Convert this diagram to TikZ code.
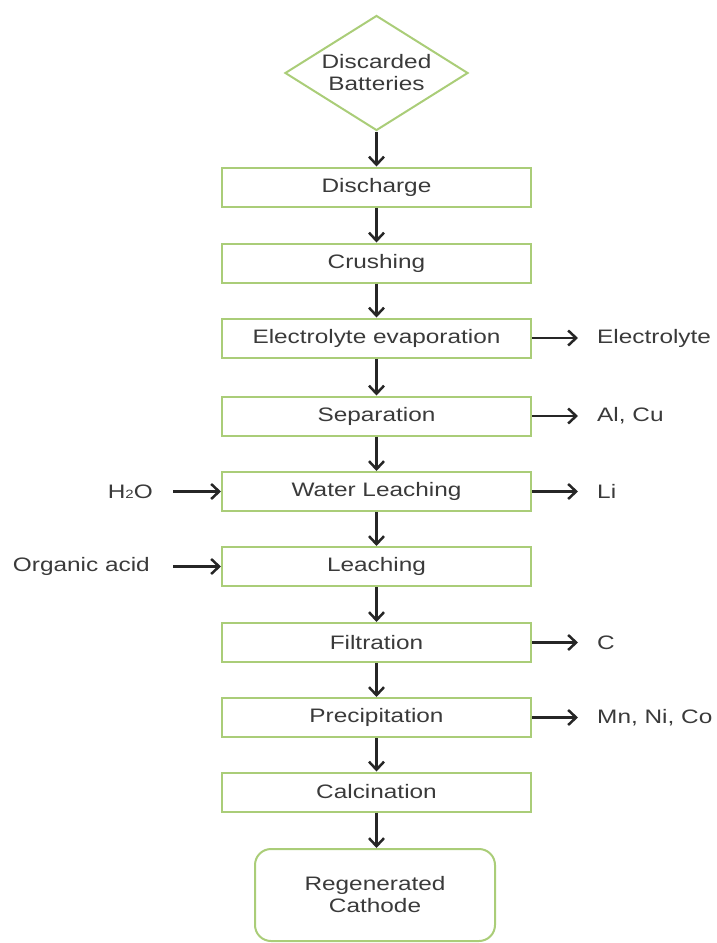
\documentclass[tikz,border=0pt]{standalone}
\usepackage{fontspec}
\setmainfont{Liberation Sans}[FakeStretch=1.25]
\usetikzlibrary{shapes.geometric,arrows.meta}
\definecolor{boxgreen}{RGB}{170,205,120}
\definecolor{txtgray}{RGB}{58,58,58}

\begin{document}
\begin{tikzpicture}[x=1pt,y=-1pt]
\tikzstyle{every node}+=[inner sep=0pt,text=txtgray,font=\fontsize{19.5}{22}\selectfont]
\tikzstyle{stepbox}=[draw=boxgreen,line width=2pt,minimum width=309pt,minimum height=39pt]
\tikzstyle{start}=[diamond,draw=boxgreen,line width=2pt,aspect=1.6,minimum width=183pt,minimum height=115pt,align=center]
\tikzstyle{finish}=[draw=boxgreen,line width=2pt,rounded corners=16pt,minimum width=240pt,minimum height=92pt,align=center]
\tikzstyle{flow}=[draw=black!85,line width=2.5pt,-{Straight Barb[length=8pt,width=15pt]}]
\useasboundingbox (0,0) rectangle (716,943);
% main chain
\node[start] (bat) at (376.5,73) {Discarded\\Batteries};
\node[stepbox] (dis) at (376.5,187) {Discharge};
\node[stepbox] (crush) at (376.5,263) {Crushing};
\node[stepbox] (evap) at (376.5,338) {Electrolyte evaporation};
\node[stepbox] (sep) at (376.5,416) {Separation};
\node[stepbox] (wleach) at (376.5,491.5) {Water Leaching};
\node[stepbox] (leach) at (376.5,566.5) {Leaching};
\node[stepbox] (filt) at (376.5,642.5) {Filtration};
\node[stepbox] (prec) at (376.5,717.5) {Precipitation};
\node[stepbox] (calc) at (376.5,792) {Calcination};
\node[finish] (cath) at (375,895) {Regenerated\\Cathode};
\draw[flow] (bat.south) -- (dis.north);
\draw[flow] (dis) -- (crush);
\draw[flow] (crush) -- (evap);
\draw[flow] (evap) -- (sep);
\draw[flow] (sep) -- (wleach);
\draw[flow] (wleach) -- (leach);
\draw[flow] (leach) -- (filt);
\draw[flow] (filt) -- (prec);
\draw[flow] (prec) -- (calc);
\draw[flow] (calc.south) -- (calc.south |- cath.north);
% outputs
\node[anchor=west] (elec) at (597,338) {Electrolyte};
\node[anchor=west] (alcu) at (597,416) {Al, Cu};
\node[anchor=west] (li) at (597,491.5) {Li};
\node[anchor=west] (carb) at (597,642.5) {C};
\node[anchor=west] (metals) at (597,717.5) {Mn, Ni, Co};
\draw[flow,shorten >=19pt] (evap.east) -- (elec.west);
\draw[flow,shorten >=19pt] (sep.east) -- (alcu.west);
\draw[flow,shorten >=19pt] (wleach.east) -- (li.west);
\draw[flow,shorten >=19pt] (filt.east) -- (carb.west);
\draw[flow,shorten >=19pt] (prec.east) -- (metals.west);
% inputs
\node[anchor=east] (water) at (153,491.5) {H{\fontsize{12}{12}\selectfont 2}O};
\node[anchor=east] (acid) at (150,566.5) {Organic acid};
\draw[flow,shorten <=20pt] (water.east) -- (wleach.west);
\draw[flow,shorten <=23pt] (acid.east) -- (leach.west);
\end{tikzpicture}
\end{document}
